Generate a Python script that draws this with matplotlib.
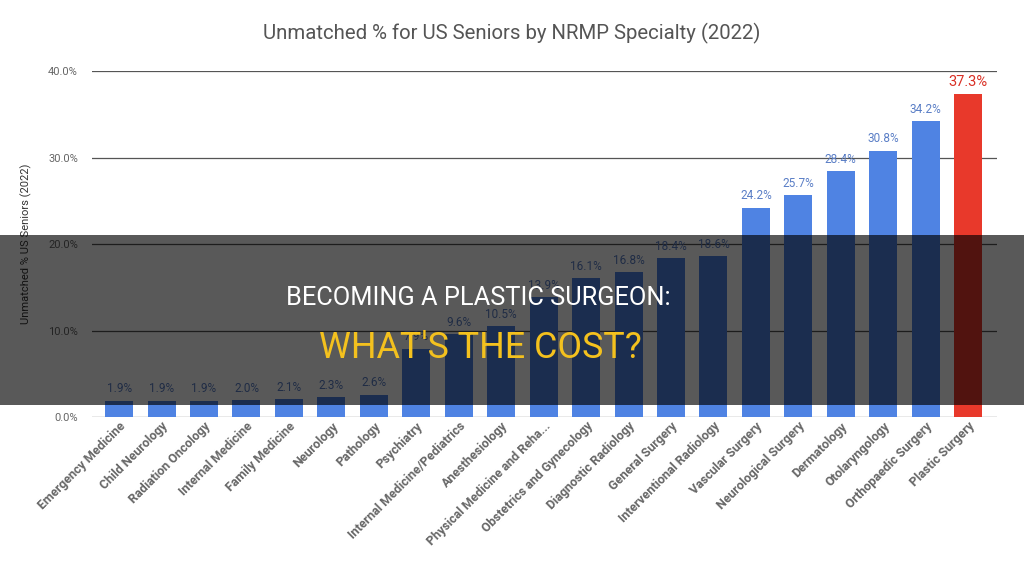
import matplotlib.pyplot as plt
from matplotlib.patches import Rectangle

specialties = ['Emergency Medicine', 'Child Neurology', 'Radiation Oncology',
               'Internal Medicine', 'Family Medicine', 'Neurology', 'Pathology',
               'Psychiatry', 'Internal Medicine/Pediatrics', 'Anesthesiology',
               'Physical Medicine and Reha...', 'Obstetrics and Gynecology',
               'Diagnostic Radiology', 'General Surgery', 'Interventional Radiology',
               'Vascular Surgery', 'Neurological Surgery', 'Dermatology',
               'Otolaryngology', 'Orthopaedic Surgery', 'Plastic Surgery']
unmatched = [1.9, 1.9, 1.9, 2.0, 2.1, 2.3, 2.6, 7.9, 9.6, 10.5, 13.9, 16.1,
             16.8, 18.4, 18.6, 24.2, 25.7, 28.4, 30.8, 34.2, 37.3]
y_ticks = [0, 10, 20, 30, 40]

blue = '#4f83e3'
red = '#e8392b'
colors = [blue] * (len(unmatched) - 1) + [red]

plt.rcParams['font.family'] = ['Roboto', 'DejaVu Sans']

fig = plt.figure(figsize=(10.24, 5.70), dpi=100)
ax = fig.add_axes([0.0898, 0.2684, 0.8838, 0.6070])

x = list(range(len(unmatched)))
ax.bar(x, unmatched, width=0.66, color=colors, zorder=3)

for i, v in enumerate(unmatched):
    if i == len(unmatched) - 1:
        ax.text(i, v + 0.6, '%.1f%%' % v, ha='center', va='bottom',
                fontsize=10.5, color='#d93025', clip_on=False, zorder=4)
    else:
        ax.text(i, v + 0.6, '%.1f%%' % v, ha='center', va='bottom',
                fontsize=8.5, color='#5a7ec6', zorder=4)

ax.set_xlim(-0.64, 20.68)
ax.set_ylim(0, 40)
ax.set_yticks(y_ticks)
ax.set_yticklabels(['%.1f%%' % t for t in y_ticks], fontsize=8, color='#666666')
ax.yaxis.grid(True, color='#555555', linewidth=0.9, zorder=0)
ax.set_axisbelow(True)
ax.tick_params(axis='y', length=0, pad=10)
ax.tick_params(axis='x', length=0, pad=2)
ax.set_xticks(x)
ax.set_xticklabels(specialties, rotation=45, ha='right', rotation_mode='anchor',
                   fontsize=9, color='#666666', fontweight='bold')
for s in ax.spines.values():
    s.set_visible(False)

ax.set_ylabel('Unmatched % US Seniors (2022)', fontsize=8, color='#333333',
              labelpad=12)

fig.text(0.5, 0.942, 'Unmatched % for US Seniors by NRMP Specialty (2022)',
         ha='center', va='center', fontsize=14.7, color='#555555')

# dark banner over the middle
fig.patches.append(Rectangle((0, 0.2895), 1, 0.2982, transform=fig.transFigure,
                             facecolor='black', alpha=0.65, zorder=10))
fig.text(0.467, 0.477, 'BECOMING A PLASTIC SURGEON:', ha='center', va='center',
         fontsize=18.3, color='white', zorder=11,
         family=['Liberation Sans Narrow', 'Roboto', 'DejaVu Sans'])
fig.text(0.469, 0.39, "WHAT'S THE COST?", ha='center', va='center',
         fontsize=25.8, color='#f4c11e', zorder=11,
         family=['Liberation Sans Narrow', 'Roboto', 'DejaVu Sans'])

fig.savefig('out.png', dpi=100)
